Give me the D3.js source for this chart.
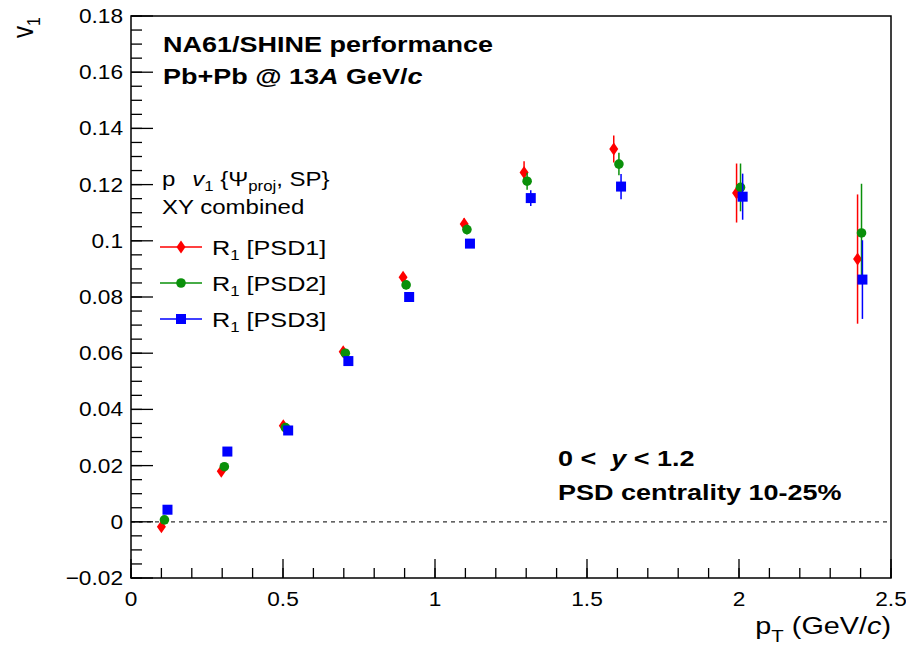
<!DOCTYPE html>
<html>
<head>
<meta charset="utf-8">
<script src="https://cdn.jsdelivr.net/npm/d3@7"></script>
<style>
  body { margin: 0; background: #fff; }
  text { font-family: "Liberation Sans", Arial, Helvetica, sans-serif; fill: #000; }
</style>
</head>
<body>
<div id="svg-container"></div>
<script>
// values
const xTicks = [0, 0.5, 1, 1.5, 2, 2.5];
const xTickLabels = ["0", "0.5", "1", "1.5", "2", "2.5"];
const yTicks = [-0.02, 0, 0.02, 0.04, 0.06, 0.08, 0.1, 0.12, 0.14, 0.16, 0.18];
const yTickLabels = ["\u22120.02", "0", "0.02", "0.04", "0.06", "0.08", "0.1", "0.12", "0.14", "0.16", "0.18"];

const seriesNames = ["PSD1", "PSD2", "PSD3"];
const seriesColors = ["#ff0000", "#0a900a", "#0000ff"];

const ptPSD1 = [0.100, 0.297, 0.501, 0.698, 0.895, 1.096, 1.293, 1.588, 1.992, 2.390];
const v1PSD1 = [-0.0018, 0.0180, 0.0342, 0.0605, 0.0870, 0.1060, 0.1243, 0.1327, 0.1170, 0.0935];
const errPSD1 = [0.0015, 0.0015, 0.0015, 0.0015, 0.0015, 0.0020, 0.0040, 0.0048, 0.0105, 0.0230];

const ptPSD2 = [0.110, 0.307, 0.508, 0.705, 0.905, 1.105, 1.303, 1.605, 2.005, 2.403];
const v1PSD2 = [0.0007, 0.0196, 0.0335, 0.0600, 0.0843, 0.1040, 0.1212, 0.1273, 0.1190, 0.1028];
const errPSD2 = [0.0012, 0.0012, 0.0012, 0.0012, 0.0015, 0.0018, 0.0030, 0.0040, 0.0085, 0.0175];

const ptPSD3 = [0.120, 0.317, 0.517, 0.715, 0.915, 1.115, 1.315, 1.612, 2.012, 2.406];
const v1PSD3 = [0.0043, 0.0250, 0.0325, 0.0572, 0.0800, 0.0990, 0.1152, 0.1193, 0.1157, 0.0862];
const errPSD3 = [0.0010, 0.0010, 0.0010, 0.0012, 0.0012, 0.0015, 0.0028, 0.0045, 0.0082, 0.0140];

const W = 906, H = 649;
const SX = 1.2;  // the picture's text is stretched sideways
const frameL = 131, frameR = 891, frameT = 16, frameB = 578;

const x = d3.scaleLinear().domain([0, 2.5]).range([frameL, frameR]);
const y = d3.scaleLinear().domain([-0.02, 0.18]).range([frameB, frameT]);

const svg = d3.select("#svg-container").append("svg")
    .attr("width", W).attr("height", H);

// text placed at (px,py), stretched along x
const label = (px, py, size, anchor, weight, sx) => {
    const g = svg.append("g").attr("transform", `translate(${px},${py}) scale(${sx || SX},1)`);
    return g.append("text")
        .attr("text-anchor", anchor || "start")
        .style("font-size", size + "px")
        .style("font-weight", weight || "normal");
};

// zero line
svg.append("line")
    .attr("x1", frameL).attr("x2", frameR)
    .attr("y1", y(0)).attr("y2", y(0))
    .attr("stroke", "#333").attr("stroke-width", 1.3)
    .attr("stroke-dasharray", "4,4");

// ticks
const xMinor = d3.range(0, 2.501, 0.1);
svg.selectAll(".xminor").data(xMinor).enter().append("line")
    .attr("x1", d => x(d)).attr("x2", d => x(d))
    .attr("y1", frameB).attr("y2", frameB - 10)
    .attr("stroke", "#000").attr("stroke-width", 1.3);
svg.selectAll(".xmajor").data(xTicks).enter().append("line")
    .attr("x1", d => x(d)).attr("x2", d => x(d))
    .attr("y1", frameB).attr("y2", frameB - 19)
    .attr("stroke", "#000").attr("stroke-width", 1.3);

const yMinor = d3.range(-0.02, 0.1801, 0.005);
svg.selectAll(".yminor").data(yMinor).enter().append("line")
    .attr("x1", frameL).attr("x2", frameL + 11)
    .attr("y1", d => y(d)).attr("y2", d => y(d))
    .attr("stroke", "#000").attr("stroke-width", 1.3);
svg.selectAll(".ymajor").data(yTicks).enter().append("line")
    .attr("x1", frameL).attr("x2", frameL + 22)
    .attr("y1", d => y(d)).attr("y2", d => y(d))
    .attr("stroke", "#000").attr("stroke-width", 1.3);

// frame
svg.append("rect")
    .attr("x", frameL).attr("y", frameT)
    .attr("width", frameR - frameL).attr("height", frameB - frameT)
    .attr("fill", "none").attr("stroke", "#000").attr("stroke-width", 1.5);

// tick labels
xTicks.forEach((t, i) => label(x(t), frameB + 28, 21, "middle", "normal", 1.08).text(xTickLabels[i]));
yTicks.forEach((t, i) => label(frameL - 8, y(t) + 7, 21, "end", "normal", 1.08).text(yTickLabels[i]));

// axis titles
const xt = label(frameR, 634, 24, "end");
xt.append("tspan").text("p");
xt.append("tspan").attr("dy", 8).style("font-size", "17px").text("T");
xt.append("tspan").attr("dy", -8).text(" (GeV/");
xt.append("tspan").style("font-style", "italic").text("c");
xt.append("tspan").text(")");

const yt = svg.append("g").attr("transform", `translate(33,17) scale(${SX},1) rotate(-90)`)
    .append("text").attr("text-anchor", "end").style("font-size", "24px");
yt.append("tspan").text("v");
yt.append("tspan").attr("dy", 6).style("font-size", "16px").text("1");

// header
label(163, 52, 22.5, "start", "bold").text("NA61/SHINE performance");
const h2 = label(163, 84, 22.5, "start", "bold");
h2.append("tspan").text("Pb+Pb @ 13");
h2.append("tspan").style("font-style", "italic").text("A");
h2.append("tspan").text(" GeV/");
h2.append("tspan").style("font-style", "italic").text("c");

// kinematic range
const k1 = label(558, 466, 22.5, "start", "bold");
k1.append("tspan").text("0 <\u00a0\u00a0");
k1.append("tspan").style("font-style", "italic").text("y");
k1.append("tspan").text(" < 1.2");
label(558, 500, 22.5, "start", "bold").text("PSD centrality 10-25%");

// legend
const lh = label(162, 186, 20, "start");
lh.append("tspan").text("p");
lh.append("tspan").attr("dx", 14).style("font-style", "italic").text("v");
lh.append("tspan").attr("dy", 5).style("font-size", "14px").text("1");
lh.append("tspan").attr("dy", -5).text("\u00a0{\u03A8");
lh.append("tspan").attr("dy", 5).style("font-size", "14px").text("proj");
lh.append("tspan").attr("dy", -5).text(", SP}");
label(162, 214, 20, "start").text("XY combined");

const marker = (g, idx, cx, cy) => {
    const c = seriesColors[idx];
    if (idx === 0) {
        g.append("path")
            .attr("d", `M${cx},${cy - 6.5}L${cx + 4.5},${cy}L${cx},${cy + 6.5}L${cx - 4.5},${cy}Z`)
            .attr("fill", c);
    } else if (idx === 1) {
        g.append("circle").attr("cx", cx).attr("cy", cy).attr("r", 4.8).attr("fill", c);
    } else {
        g.append("rect").attr("x", cx - 5).attr("y", cy - 5)
            .attr("width", 10).attr("height", 10).attr("fill", c);
    }
};

const legendY = [247, 283, 319];
seriesNames.forEach((name, i) => {
    const g = svg.append("g");
    g.append("line")
        .attr("x1", 160).attr("x2", 202)
        .attr("y1", legendY[i]).attr("y2", legendY[i])
        .attr("stroke", seriesColors[i]).attr("stroke-width", 1.5);
    marker(g, i, 181, legendY[i]);
    const t = label(212, legendY[i] + 8, 21, "start");
    t.append("tspan").text("R");
    t.append("tspan").attr("dy", 5).style("font-size", "14px").text("1");
    t.append("tspan").attr("dy", -5).text(" [" + name + "]");
});

// data points with error bars
const series = [
    { pt: ptPSD1, v: v1PSD1, e: errPSD1 },
    { pt: ptPSD2, v: v1PSD2, e: errPSD2 },
    { pt: ptPSD3, v: v1PSD3, e: errPSD3 }
];

series.forEach((s, i) => {
    const g = svg.append("g");
    s.pt.forEach((p, j) => {
        g.append("line")
            .attr("x1", x(p)).attr("x2", x(p))
            .attr("y1", y(s.v[j] - s.e[j])).attr("y2", y(s.v[j] + s.e[j]))
            .attr("stroke", seriesColors[i]).attr("stroke-width", 1.5);
    });
    s.pt.forEach((p, j) => marker(g, i, x(p), y(s.v[j])));
});
</script>
</body>
</html>
